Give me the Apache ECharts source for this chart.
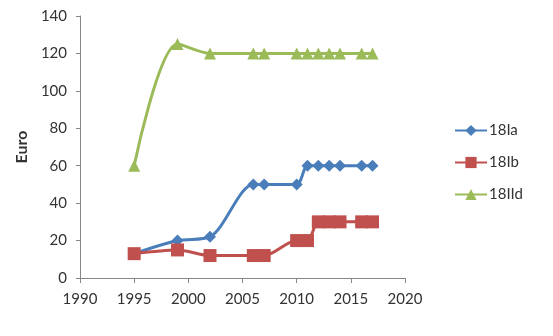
<!DOCTYPE html>
<html>
<head>
<meta charset="utf-8">
<script src="https://cdn.jsdelivr.net/npm/echarts@6/dist/echarts.min.js"></script>
<style>
  html, body { margin: 0; padding: 0; background: #fff; }
  #chart { width: 553px; height: 336px; }
</style>
</head>
<body>
<div id="chart"></div>
<script>
// values
const yearsIa = [1995, 1999, 2002, 2006, 2007, 2010, 2011, 2012, 2013, 2014, 2016, 2017];
const valuesIa = [13, 20, 22, 50, 50, 50, 60, 60, 60, 60, 60, 60];

const yearsIb = [1995, 1999, 2002, 2006, 2007, 2010, 2011, 2012, 2013, 2014, 2016, 2017];
const valuesIb = [13, 15, 12, 12, 12, 20, 20, 30, 30, 30, 30, 30];

const yearsIId = [1995, 1999, 2002, 2006, 2007, 2010, 2011, 2012, 2013, 2014, 2016, 2017];
const valuesIId = [60, 125, 120, 120, 120, 120, 120, 120, 120, 120, 120, 120];

const seriesNames = ["18Ia", "18Ib", "18IId"];
const colors = ["#4A7EBB", "#C0504D", "#9BBB59"];

const zip = (xs, ys) => xs.map((x, i) => [x, ys[i]]);

const font = "Lato, 'Liberation Sans', sans-serif";
const chart = echarts.init(document.getElementById("chart"));

chart.setOption({
  animation: false,
  color: colors,
  textStyle: { fontFamily: font },
  grid: { left: 80, right: 148, top: 16, bottom: 58 },
  legend: {
    orient: "vertical",
    left: 449,
    top: 118,
    itemWidth: 32,
    itemHeight: 14,
    itemGap: 17,
    textStyle: { fontSize: 15, color: "#333", fontFamily: font, padding: [0, 0, 0, -3] },
    data: seriesNames
  },
  xAxis: {
    type: "value",
    min: 1990,
    max: 2020,
    interval: 5,
    splitLine: { show: false },
    axisLine: { lineStyle: { color: "#868686", width: 1 } },
    axisTick: { show: true, length: 5, lineStyle: { color: "#868686" } },
    axisLabel: { fontSize: 15, color: "#333", margin: 14, fontFamily: font, formatter: v => String(v) }
  },
  yAxis: {
    type: "value",
    name: "Euro",
    nameLocation: "middle",
    nameGap: 50,
    nameTextStyle: { fontSize: 16, fontWeight: "bold", color: "#333", fontFamily: font },
    min: 0,
    max: 140,
    interval: 20,
    splitLine: { show: false },
    axisLine: { show: true, lineStyle: { color: "#868686", width: 1 } },
    axisTick: { show: true, length: 4, lineStyle: { color: "#868686" } },
    axisLabel: { fontSize: 15, color: "#333", margin: 13, fontFamily: font }
  },
  series: [
    {
      name: seriesNames[0],
      type: "line",
      smooth: 0.3,
      data: zip(yearsIa, valuesIa),
      symbol: "diamond",
      symbolSize: 12,
      lineStyle: { width: 3 }
    },
    {
      name: seriesNames[1],
      type: "line",
      smooth: 0.3,
      data: zip(yearsIb, valuesIb),
      symbol: "rect",
      symbolSize: 13,
      lineStyle: { width: 3 }
    },
    {
      name: seriesNames[2],
      type: "line",
      smooth: 0.3,
      data: zip(yearsIId, valuesIId),
      symbol: "triangle",
      symbolSize: 12,
      lineStyle: { width: 3 }
    }
  ]
});
</script>
</body>
</html>
